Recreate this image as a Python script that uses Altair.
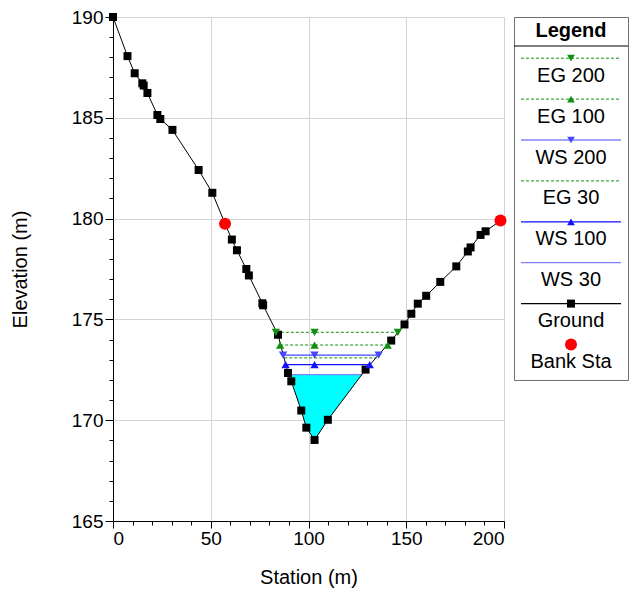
import altair as alt
import pandas as pd

# ---------------- data ----------------
ground_station = [0, 7.4, 11.1, 15.0, 15.7, 17.6, 22.7, 24.2, 30.4, 43.8, 50.8, 57.3,
                  60.8, 63.4, 68.2, 69.5, 76.4, 76.8, 84.4, 89.5, 91.2, 96.3, 98.9,
                  103.1, 109.9, 129.2, 142.3, 149.1, 152.6, 155.9, 160.2, 167.4,
                  175.6, 181.5, 182.9, 188.0, 190.6, 198.2]
ground_elev = [190.0, 188.06, 187.21, 186.71, 186.6, 186.23, 185.14, 184.94, 184.40,
               182.41, 181.28, 179.75, 178.96, 178.43, 177.5, 177.18, 175.8, 175.7,
               174.24, 172.34, 171.93, 170.48, 169.63, 169.02, 170.02, 172.51, 173.95,
               174.75, 175.28, 175.78, 176.17, 176.86, 177.63, 178.37, 178.57, 179.19,
               179.37, 179.9]

bank_station = [57.3, 198.2]
bank_elev = [179.75, 179.9]

profile_names = ["EG 200", "EG 100", "WS 200", "EG 30", "WS 100", "WS 30"]
profile_elev = [174.36, 173.73, 173.23, 173.09, 172.76, 172.26]
profile_left = [83.3, 85.5, 87.0, 87.6, 88.3, 89.8]
profile_right = [145.7, 140.5, 135.9, 134.6, 131.3, 127.3]
profile_colors = ["#109010", "#109010", "#4646ff", "#109010", "#1010ff", "#8080ff"]
profile_dashed = [True, True, False, True, False, False]
profile_shapes = ["triangle-down", "triangle-up", "triangle-down", None, "triangle-up", None]
marker_mid_station = 103.1

fill_station = [89.8, 91.2, 96.3, 98.9, 103.1, 109.9, 127.3]
fill_bottom = [172.26, 171.93, 170.48, 169.63, 169.02, 170.02, 172.26]
fill_top = [172.26] * len(fill_station)

FONT = "Liberation Sans"

# ---------------- tables ----------------
ground_df = pd.DataFrame({"station": ground_station, "elev": ground_elev})
bank_df = pd.DataFrame({"station": bank_station, "elev": bank_elev})
fill_df = pd.DataFrame({"station": fill_station, "bottom": fill_bottom, "top": fill_top})
prof_df = pd.DataFrame({
    "name": profile_names, "elev": profile_elev, "left": profile_left,
    "right": profile_right, "color": profile_colors, "dashed": profile_dashed,
})
mk_rows = []
for n, e, l, r, c, s in zip(profile_names, profile_elev, profile_left, profile_right,
                            profile_colors, profile_shapes):
    if s is None:
        continue
    for st in (l, marker_mid_station, r):
        mk_rows.append({"name": n, "station": st, "elev": e, "color": c, "shape": s})
mk_df = pd.DataFrame(mk_rows)

# ---------------- main chart ----------------
x_scale = alt.Scale(domain=[0, 200], nice=False, zero=False)
y_scale = alt.Scale(domain=[165, 190], nice=False, zero=False)

x_axis = alt.Axis(
    title="Station (m)", values=list(range(0, 201, 10)),
    labelExpr="datum.value % 50 === 0 ? datum.label : ''",
    gridOpacity={"condition": {"test": "datum.value % 50 === 0", "value": 1}, "value": 0},
    tickSize={"condition": {"test": "datum.value % 50 === 0", "value": 7}, "value": 4},
    gridColor="#d4d4d4", domainColor="#000000", tickColor="#000000",
    labelFont=FONT, labelFontSize=19, labelColor="#000000", labelPadding=1,
    titleFont=FONT, titleFontSize=20, titleFontWeight="normal", titleColor="#000000",
    titlePadding=19,
)
y_axis = alt.Axis(
    title="Elevation (m)", values=list(range(165, 191)),
    labelExpr="datum.value % 5 === 0 ? datum.label : ''",
    gridOpacity={"condition": {"test": "datum.value % 5 === 0", "value": 1}, "value": 0},
    tickSize={"condition": {"test": "datum.value % 5 === 0", "value": 8}, "value": 4},
    gridColor="#d4d4d4", domainColor="#000000", tickColor="#000000",
    labelFont=FONT, labelFontSize=19, labelColor="#000000", labelPadding=2,
    titleFont=FONT, titleFontSize=20, titleFontWeight="normal", titleColor="#000000",
    titlePadding=41,
)

X = lambda f: alt.X(f, type="quantitative", scale=x_scale, axis=x_axis)
Y = lambda f: alt.Y(f, type="quantitative", scale=y_scale, axis=y_axis)

fill = alt.Chart(fill_df).mark_area(color="#00ffff", opacity=1).encode(
    x=X("station"), y=Y("bottom"), y2="top")

dashed_lines = alt.Chart(prof_df[prof_df.dashed]).mark_rule(strokeDash=[3, 2], strokeWidth=1).encode(
    x=X("left"), x2="right", y=Y("elev"), color=alt.Color("color:N", scale=None))
solid_lines = alt.Chart(prof_df[~prof_df.dashed]).mark_rule(strokeWidth=1.2).encode(
    x=X("left"), x2="right", y=Y("elev"), color=alt.Color("color:N", scale=None))

ground_line = alt.Chart(ground_df).mark_line(color="#000000", strokeWidth=1).encode(
    x=X("station"), y=Y("elev"))
ground_pts = alt.Chart(ground_df).mark_square(color="#000000", size=64, opacity=1).encode(
    x=X("station"), y=Y("elev"))

markers = alt.Chart(mk_df).mark_point(filled=True, size=70, opacity=1).encode(
    x=X("station"), y=Y("elev"),
    shape=alt.Shape("shape:N", scale=None),
    color=alt.Color("color:N", scale=None))

banks = alt.Chart(bank_df).mark_circle(color="#ff0000", size=144, opacity=1).encode(
    x=X("station"), y=Y("elev"))

main = alt.layer(fill, dashed_lines, solid_lines, ground_line, ground_pts, markers, banks).properties(
    width=391, height=504, view=alt.ViewBackground(stroke="#d4d4d4"))

# ---------------- legend panel ----------------
LW, LH = 114, 363
legend_items = profile_names + ["Ground", "Bank Sta"]
legend_colors = profile_colors + ["#000000", "#ff0000"]
legend_dashed = profile_dashed + [False, False]
legend_has_line = [True] * 7 + [False]
legend_shapes = profile_shapes + ["square", "circle"]
legend_sizes = [60, 60, 60, 0, 60, 0, 64, 144]

row0, step, text_gap = 41.2, 40.9, 17.5
leg_df = pd.DataFrame({
    "label": legend_items, "color": legend_colors, "dashed": legend_dashed,
    "has_line": legend_has_line,
    "shape": [s if s else "circle" for s in legend_shapes],
    "size": legend_sizes,
})
leg_df["yl"] = [row0 + step * i for i in range(len(leg_df))]
leg_df["yt"] = leg_df["yl"] + text_gap
leg_df["x0"] = 7
leg_df["x1"] = LW - 7
leg_df["xm"] = LW / 2
leg_df["xt"] = LW / 2

lx = alt.Scale(domain=[0, LW], nice=False, zero=False)
ly = alt.Scale(domain=[0, LH], nice=False, zero=False, reverse=True)
LX = lambda f: alt.X(f, type="quantitative", scale=lx, axis=None)
LY = lambda f: alt.Y(f, type="quantitative", scale=ly, axis=None)

hdr_df = pd.DataFrame({"t": ["Legend"], "x": [LW / 2], "y": [13.5], "x0": [0], "x1": [LW], "ys": [29]})
hdr = alt.Chart(hdr_df).mark_text(font=FONT, fontSize=20, fontWeight="bold", color="#000000").encode(
    x=LX("x"), y=LY("y"), text="t:N")
sep = alt.Chart(hdr_df).mark_rule(color="#000000", strokeWidth=1).encode(
    x=LX("x0"), x2="x1", y=LY("ys"))

lined = leg_df[leg_df.has_line]
l_dash = alt.Chart(lined[lined.dashed]).mark_rule(strokeDash=[3, 2], strokeWidth=1).encode(
    x=LX("x0"), x2="x1", y=LY("yl"), color=alt.Color("color:N", scale=None))
l_solid = alt.Chart(lined[~lined.dashed]).mark_rule(strokeWidth=1.2).encode(
    x=LX("x0"), x2="x1", y=LY("yl"), color=alt.Color("color:N", scale=None))
l_mk = alt.Chart(leg_df[leg_df["size"] > 0]).mark_point(filled=True, opacity=1).encode(
    x=LX("xm"), y=LY("yl"),
    shape=alt.Shape("shape:N", scale=None),
    color=alt.Color("color:N", scale=None),
    size=alt.Size("size:Q", scale=None))
l_txt = alt.Chart(leg_df).mark_text(font=FONT, fontSize=20, color="#000000").encode(
    x=LX("xt"), y=LY("yt"), text="label:N")

legend = alt.layer(hdr, sep, l_dash, l_solid, l_mk, l_txt).properties(
    width=LW, height=LH, view=alt.ViewBackground(stroke="#707070", strokeWidth=1))

chart = alt.hconcat(main, legend, spacing=10, bounds="flush").properties(
    padding={"left": 1, "top": -1, "right": 0, "bottom": 0}
).configure(font=FONT)

chart.save("out.html", embed_options={"renderer": "svg", "actions": False})
